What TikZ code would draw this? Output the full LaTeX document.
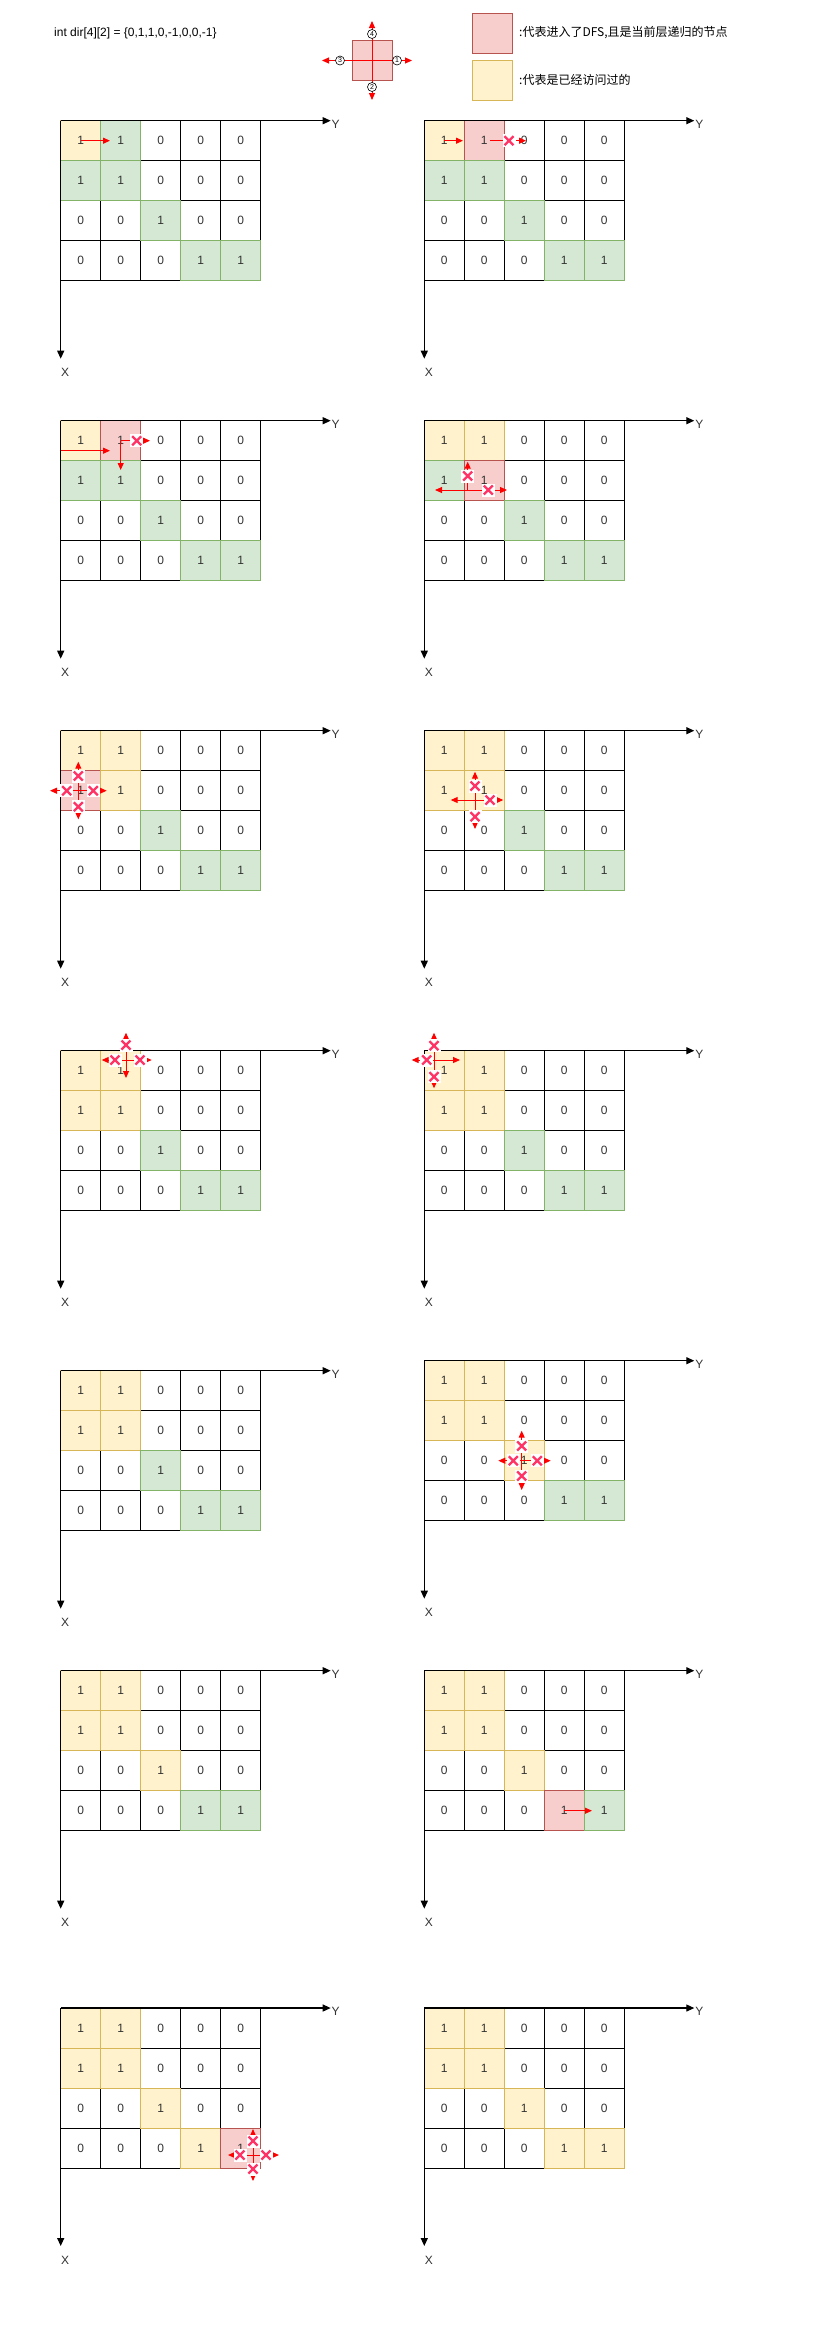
\documentclass[tikz,border=0pt]{standalone}
\usepackage{fontspec}
\setmainfont{Liberation Sans}
\newfontfamily\cjk{Noto Sans CJK SC}
\usetikzlibrary{arrows.meta}
\definecolor{grnfill}{HTML}{D5E8D4}\definecolor{grndraw}{HTML}{82B366}
\definecolor{yelfill}{HTML}{FFF2CC}\definecolor{yeldraw}{HTML}{D6B656}
\definecolor{pnkfill}{HTML}{F8CECC}\definecolor{pnkdraw}{HTML}{B85450}
\definecolor{xpink}{HTML}{FF3366}
\definecolor{txt}{HTML}{333333}
\tikzset{
 cell/.style={draw=black, line width=1pt, minimum size=40pt, inner sep=0pt, font=\fontsize{12}{14}\selectfont, text=txt},
 axis/.style={line width=1.2pt, -{Triangle[length=8pt,width=7pt]}},
 lbl/.style={font=\fontsize{12}{14}\selectfont, text=txt, inner sep=0pt},
 rarr/.style={red, line width=1pt, -{Triangle[length=7pt,width=6pt]}},
 xbox/.style={fill=white, minimum size=13pt, inner sep=0pt, path picture={\draw[xpink, line width=2.3pt] (path picture bounding box.center) +(-4.5,-4.5) -- +(4.5,4.5) +(-4.5,4.5) -- +(4.5,-4.5);}},
 numc/.style={circle, draw=black, fill=white, line width=0.6pt, inner sep=0pt, minimum size=9pt, font=\fontsize{7}{8}\selectfont},
 legbox/.style={minimum size=40pt, line width=1pt, inner sep=0pt},
}
\newcommand\gridpanel[4]{%
 \begin{scope}[shift={(#2,#3)}]
  \foreach \r/\vals in {0/{1,1,0,0,0},1/{1,1,0,0,0},2/{0,0,1,0,0},3/{0,0,0,1,1}}{%
    \foreach \v [count=\c from 0] in \vals {%
      \node[cell] (#1c\r\c) at (\c*40+20,\r*40+20) {\v};}}
  \foreach \r/\c/\s in {#4}{%
      \node[cell, fill=\s fill, draw=\s draw] (#1k\r\c) at (\c*40+20,\r*40+20) {1};}
  \coordinate (#1o) at (0,0);
  \coordinate (#1ye) at (270,0);
  \coordinate (#1xe) at (0,238);
  \draw[axis] (#1o) -- (#1ye);
  \draw[axis] (#1o) -- (#1xe);
  \node[lbl] (#1Y) at (275,3.5) {Y};
  \node[lbl] (#1X) at (4.5,252) {X};
 \end{scope}}
\newcommand\ray[3]{\coordinate (#2) at (#3); \draw[rarr] (#1) -- (#2);}
\newcommand\xmk[2]{\node[xbox] (#1) at (#2) {};}
\begin{document}
\begin{tikzpicture}[x=1pt,y=-1pt]
\fill[white] (0,0) rectangle (827,2338);
\useasboundingbox (0,0) rectangle (827,2338);
% header
\node[lbl, text=black, anchor=west] (code) at (54,33) {int dir[4][2] = \{0,1,1,0,-1,0,0,-1\}};
\node[legbox, fill=pnkfill, draw=pnkdraw] (dsq) at (372,60.5) {};
\coordinate (dc) at (372,60.5);
\ray{dc}{dup}{372,21}
\ray{dc}{ddn}{372,100}
\ray{dc}{dlt}{322,60.5}
\ray{dc}{drt}{412,60.5}
\node[numc] (n4) at (372,34) {4};
\node[numc] (n2) at (372,87) {2};
\node[numc] (n3) at (340,60.5) {3};
\node[numc] (n1) at (397,60.5) {1};
\node[legbox, fill=pnkfill, draw=pnkdraw] (legp) at (492,33) {};
\node[legbox, fill=yelfill, draw=yeldraw] (legy) at (492,80) {};
\node[lbl, text=black, anchor=west] (legpt) at (519,33) {\cjk :代表进入了DFS,且是当前层递归的节点};
\node[lbl, text=black, anchor=west] (legyt) at (519,80) {\cjk :代表是已经访问过的};
% panels
\gridpanel{pa}{60.7}{120.7}{0/0/yel,0/1/grn,1/0/grn,1/1/grn,2/2/grn,3/3/grn,3/4/grn}
\gridpanel{pb}{424.3}{120.7}{0/0/yel,0/1/pnk,1/0/grn,1/1/grn,2/2/grn,3/3/grn,3/4/grn}
\gridpanel{pc}{60.7}{420.7}{0/0/yel,0/1/pnk,1/0/grn,1/1/grn,2/2/grn,3/3/grn,3/4/grn}
\gridpanel{pd}{424.3}{420.7}{0/0/yel,0/1/yel,1/0/grn,1/1/pnk,2/2/grn,3/3/grn,3/4/grn}
\gridpanel{pe}{60.7}{730.7}{0/0/yel,0/1/yel,1/0/pnk,1/1/yel,2/2/grn,3/3/grn,3/4/grn}
\gridpanel{pf}{424.3}{730.7}{0/0/yel,0/1/yel,1/0/yel,1/1/yel,2/2/grn,3/3/grn,3/4/grn}
\gridpanel{pg}{60.7}{1050.7}{0/0/yel,0/1/yel,1/0/yel,1/1/yel,2/2/grn,3/3/grn,3/4/grn}
\gridpanel{ph}{424.3}{1050.7}{0/0/yel,0/1/yel,1/0/yel,1/1/yel,2/2/grn,3/3/grn,3/4/grn}
\gridpanel{pi}{60.7}{1370.7}{0/0/yel,0/1/yel,1/0/yel,1/1/yel,2/2/grn,3/3/grn,3/4/grn}
\gridpanel{pj}{424.3}{1360.7}{0/0/yel,0/1/yel,1/0/yel,1/1/yel,2/2/yel,3/3/grn,3/4/grn}
\gridpanel{pk}{60.7}{1670.7}{0/0/yel,0/1/yel,1/0/yel,1/1/yel,2/2/yel,3/3/grn,3/4/grn}
\gridpanel{pl}{424.3}{1670.7}{0/0/yel,0/1/yel,1/0/yel,1/1/yel,2/2/yel,3/3/pnk,3/4/grn}
\gridpanel{pm}{60.7}{2008}{0/0/yel,0/1/yel,1/0/yel,1/1/yel,2/2/yel,3/3/yel,3/4/pnk}
\gridpanel{pn}{424.3}{2008}{0/0/yel,0/1/yel,1/0/yel,1/1/yel,2/2/yel,3/3/yel,3/4/yel}
% red overlays
% P1
\coordinate (pat1) at (110,140.7); \draw[rarr] (pak00.center) -- (pat1);
% P2
\coordinate (pbt1) at (463,140.7); \draw[rarr] (pbk00.center) -- (pbt1);
\coordinate (pbs2) at (490,140.7); \ray{pbs2}{pbt2}{526,140.7}
\xmk{pbx2}{509,140.7}
% P3
\coordinate (pcs1) at (60.7,450.7); \ray{pcs1}{pct1}{110,450.7}
\coordinate (pcm) at (120.7,440.7);
\ray{pcm}{pcd}{120.7,470}
\ray{pcm}{pcr}{150,440.7}
\xmk{pcxr}{136.7,440.7}
% P4
\coordinate (pdm) at (467.7,490);
\ray{pdm}{pdu}{467.7,461.7}
\ray{pdm}{pdl}{435,490}
\ray{pdm}{pdr}{507,490}
\xmk{pdxu}{467.7,476}
\xmk{pdxr}{488.3,490}
% P5
\coordinate (pem) at (78.3,790.7);
\ray{pem}{peu}{78.3,761.7}
\ray{pem}{pel}{50,790.7}
\ray{pem}{per}{106.7,790.7}
\ray{pem}{ped}{78.3,819.3}
\xmk{pexu}{78.3,776}
\xmk{pexl}{66.7,790.7}
\xmk{pexr}{93.3,790.7}
\xmk{pexd}{78.3,806.7}
% P6
\coordinate (pfm) at (475,800);
\ray{pfm}{pfu}{475,771.7}
\ray{pfm}{pfl}{450.7,800}
\ray{pfm}{pfr}{503.3,800}
\ray{pfm}{pfd}{475,829}
\xmk{pfxu}{475,786}
\xmk{pfxr}{490,800}
\xmk{pfxd}{475,816.7}
% P7
\coordinate (pgm) at (126,1060);
\ray{pgm}{pgu}{126,1032.7}
\ray{pgm}{pgl}{101.7,1060}
\ray{pgm}{pgr}{151.7,1060}
\ray{pgm}{pgd}{126,1078}
\xmk{pgxu}{126,1045}
\xmk{pgxl}{115,1060}
\xmk{pgxr}{140,1060}
% P8
\coordinate (phm) at (434,1060);
\ray{phm}{phu}{434,1032.7}
\ray{phm}{phl}{411.7,1060}
\ray{phm}{phr}{460,1060}
\ray{phm}{phd}{434,1088.3}
\xmk{phxu}{434,1045.7}
\xmk{phxl}{426.7,1060}
\xmk{phxd}{434,1076.7}
% P10
\coordinate (pjm) at (521.7,1460.7);
\ray{pjm}{pju}{521.7,1430.7}
\ray{pjm}{pjl}{498.3,1460.7}
\ray{pjm}{pjr}{550.7,1460.7}
\ray{pjm}{pjd}{521.7,1490}
\xmk{pjxu}{521.7,1446}
\xmk{pjxl}{513.3,1460.7}
\xmk{pjxr}{537.3,1460.7}
\xmk{pjxd}{521.7,1476}
% P12
\coordinate (plt) at (592,1810.7); \draw[rarr] (plk33.center) -- (plt);
% P13
\coordinate (pmm) at (253,2155);
\ray{pmm}{pmu}{253,2129}
\ray{pmm}{pml}{228,2155}
\ray{pmm}{pmr}{279,2155}
\ray{pmm}{pmd}{253,2181}
\xmk{pmxu}{253,2141}
\xmk{pmxl}{240,2155}
\xmk{pmxr}{266,2155}
\xmk{pmxd}{253,2169}
\end{tikzpicture}
\end{document}
